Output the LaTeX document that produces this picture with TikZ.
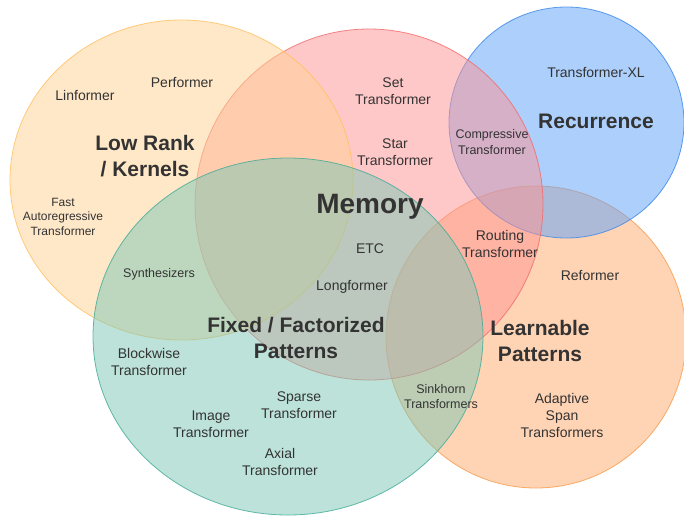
\documentclass[tikz,border=0pt]{standalone}
\usepackage{fontspec}
\setmainfont{Liberation Sans}
\usetikzlibrary{shapes.geometric}
\definecolor{txt}{HTML}{333333}
\definecolor{lrfill}{HTML}{FFD393}\definecolor{lrline}{HTML}{FFC060}
\definecolor{mefill}{HTML}{FF9393}\definecolor{meline}{HTML}{F06A6A}
\definecolor{refill}{HTML}{5DA1FB}\definecolor{reline}{HTML}{3A86E8}
\definecolor{fxfill}{HTML}{7BC7B5}\definecolor{fxline}{HTML}{40AA96}
\definecolor{lnfill}{HTML}{FFAB6B}\definecolor{lnline}{HTML}{F89A4A}
\tikzset{
  setshape/.style={fill opacity=0.5, draw opacity=0.8, line width=0.8pt},
  lbl/.style={text=txt, align=center, font=\fontsize{14}{17}\selectfont, inner sep=0pt},
  small/.style={text=txt, align=center, font=\fontsize{12.5}{15.5}\selectfont, inner sep=0pt},
  tiny/.style={text=txt, align=center, font=\fontsize{12}{14.5}\selectfont, inner sep=0pt},
  cat/.style={text=txt, align=center, font=\bfseries\fontsize{21}{26}\selectfont, inner sep=0pt},
  big/.style={text=txt, align=center, font=\bfseries\fontsize{28}{32}\selectfont, inner sep=0pt}
}
\begin{document}
\begin{tikzpicture}[x=1pt,y=-1pt]
\useasboundingbox (0,0) rectangle (684,515);
\fill[white] (0,0) rectangle (684,515);
\begin{scope}
\clip (0,0) rectangle (684,515);
\path[setshape, fill=lnfill, draw=lnline] (536,337) ellipse [x radius=150pt, y radius=151pt];
\path[setshape, fill=refill, draw=reline] (566.5,122.5) ellipse [x radius=117.5pt, y radius=115.5pt];
\path[setshape, fill=mefill, draw=meline] (369,204.5) ellipse [x radius=174pt, y radius=175.5pt];
\path[setshape, fill=lrfill, draw=lrline] (181.5,180) ellipse [x radius=171.5pt, y radius=160pt];
\path[setshape, fill=fxfill, draw=fxline] (288,336.5) ellipse [x radius=195pt, y radius=178.5pt];
\end{scope}
% category labels
\node[cat] (lowrank) at (145,156) {Low Rank\\/ Kernels};
\node[big] (memory) at (370,206.5) {Memory};
\node[cat] (recurrence) at (596,121) {Recurrence};
\node[cat] (fixed) at (296,337.5) {Fixed / Factorized\\Patterns};
\node[cat] (learnable) at (540,341) {Learnable\\Patterns};
% members
\node[lbl] (linformer) at (85,95.5) {Linformer};
\node[lbl] (performer) at (182,82.5) {Performer};
\node[tiny] (fastar) at (63,216.5) {Fast\\Autoregressive\\Transformer};
\node[lbl] (settr) at (393,91) {Set\\Transformer};
\node[lbl] (startr) at (395,152) {Star\\Transformer};
\node[small] (compr) at (492,142) {Compressive\\Transformer};
\node[lbl] (txl) at (596,72.5) {Transformer-XL};
\node[lbl] (etc) at (370,248.5) {ETC};
\node[lbl] (routing) at (500,244) {Routing\\Transformer};
\node[lbl] (reformer) at (590,275.5) {Reformer};
\node[small] (synth) at (159,274.5) {Synthesizers};
\node[lbl] (longformer) at (352,286.5) {Longformer};
\node[lbl] (blockwise) at (149,362) {Blockwise\\Transformer};
\node[small] (sinkhorn) at (441,396.5) {Sinkhorn\\Transformers};
\node[lbl] (sparse) at (299,405.5) {Sparse\\Transformer};
\node[lbl] (adaptive) at (562,415.5) {Adaptive\\Span\\Transformers};
\node[lbl] (image) at (211,424) {Image\\Transformer};
\node[lbl] (axial) at (280,462) {Axial\\Transformer};
\end{tikzpicture}
\end{document}
